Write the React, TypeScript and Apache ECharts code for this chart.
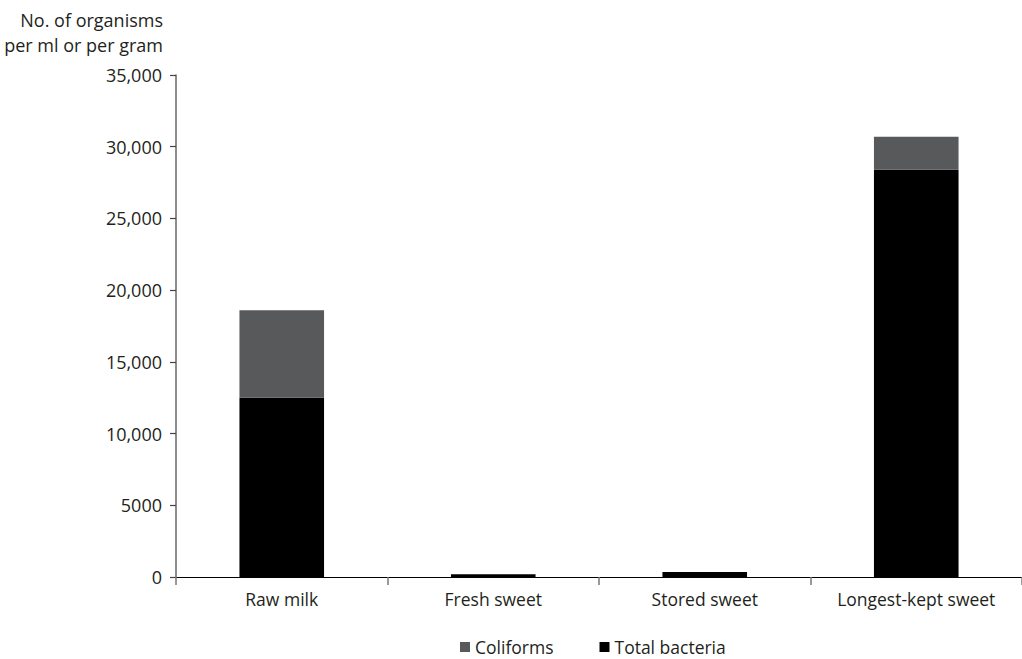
import React, { useEffect, useRef } from "react";
import * as echarts from "echarts";

const categories = ["Raw milk", "Fresh sweet", "Stored sweet", "Longest-kept sweet"];
const totalBacteria = [12500, 200, 350, 28400];
const coliforms = [6100, 0, 0, 2300];
const yTicks = [0, 5000, 10000, 15000, 20000, 25000, 30000, 35000];
const legendNames = ["Coliforms", "Total bacteria"];
const yTitle = "No. of organisms\nper ml or per gram";

const FONT = "Open Sans";
const TEXT = "#231f20";

export default function App() {
  const ref = useRef<HTMLDivElement>(null);
  useEffect(() => {
    document.body.style.margin = "0";
    const chart = echarts.init(ref.current!, null, { renderer: "svg" });
    chart.setOption({
      animation: false,
      textStyle: { fontFamily: FONT },
      grid: { left: 176, right: 0, top: 75, bottom: 82, containLabel: false },
      legend: {
        data: legendNames,
        bottom: -2,
        left: 455,
        itemWidth: 10,
        itemHeight: 10,
        itemGap: 46,
        icon: "rect",
        textStyle: { fontFamily: FONT, fontSize: 17.5, color: TEXT },
      },
      graphic: [
        {
          type: "text",
          x: 163,
          y: 7,
          style: {
            text: yTitle,
            fontFamily: FONT,
            fontSize: 18,
            lineHeight: 25,
            fill: TEXT,
            align: "right",
            verticalAlign: "top",
          },
        },
      ],
      xAxis: {
        type: "category",
        data: categories,
        boundaryGap: true,
        axisLine: { lineStyle: { color: "#000", width: 1.2 } },
        axisTick: { show: true, interval: 0, length: 8, lineStyle: { color: "#777", width: 1.5 } },
        axisLabel: { interval: 0, fontFamily: FONT, fontSize: 17.5, color: TEXT, margin: 13 },
      },
      yAxis: {
        type: "value",
        min: yTicks[0],
        max: yTicks[yTicks.length - 1],
        interval: yTicks[1] - yTicks[0],
        splitLine: { show: false },
        axisLine: { show: true, lineStyle: { color: "#666", width: 1.5 } },
        axisTick: { show: true, length: 6, lineStyle: { color: "#444", width: 1.2 } },
        axisLabel: {
          fontFamily: FONT,
          fontSize: 18,
          color: TEXT,
          margin: 14,
          formatter: (v: number) =>
            v >= 10000 ? v.toLocaleString("en-US") : String(v),
        },
      },
      series: [
        {
          name: "Total bacteria",
          type: "bar",
          stack: "a",
          data: totalBacteria,
          barWidth: "40%",
          itemStyle: { color: "#000000" },
        },
        {
          name: "Coliforms",
          type: "bar",
          stack: "a",
          data: coliforms,
          barWidth: "40%",
          itemStyle: { color: "#58595b" },
        },
      ],
    });
    return () => chart.dispose();
  }, []);
  return <div ref={ref} style={{ width: 1022, height: 659 }} />;
}
